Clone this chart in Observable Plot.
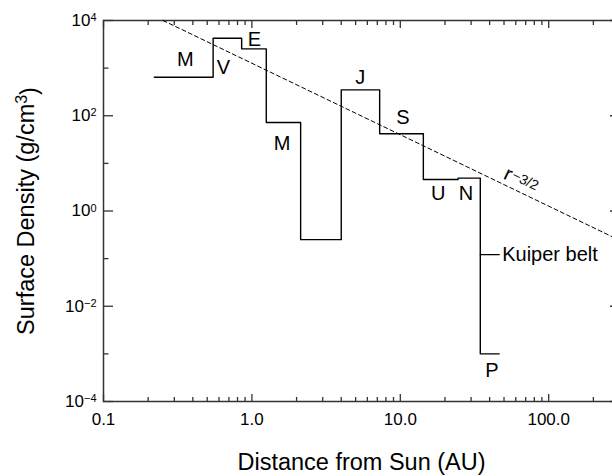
<!DOCTYPE html>
<html><head><meta charset="utf-8">
<script src="https://cdn.jsdelivr.net/npm/d3@7"></script>
<script src="https://cdn.jsdelivr.net/npm/@observablehq/plot@0.6"></script>
<style>body{margin:0;background:#fff} #chart svg{overflow:visible}</style>
</head><body><div id="chart"></div>
<script>
// Step profile of surface density (left edge of each zone, value in zone)
const stepR = [0.22, 0.548, 0.853, 1.25, 2.13, 4.0, 7.26, 14.3, 24.5, 34.6, 46.4];
const stepS = [645, 4250, 2540, 72, 0.25, 350, 42, 4.6, 4.9, 0.001, 0.001];
// Planet labels
const planetNames = ["M", "V", "E", "M", "J", "S", "U", "N", "P"];
const planetLabelR = [0.356, 0.643, 1.04, 1.60, 5.38, 10.4, 18.0, 27.7, 41.4];
const planetLabelS = [1514, 1030, 3990, 26, 635, 91.6, 2.32, 2.32, 4.44e-4];
// r^-3/2 reference line (end points)
const slopeR = [0.252, 300];
const slopeS = [10000, 0.2435];
const slopeLabel = "r";
const slopeExp = "−3/2";
const slopeLabelR = [51];
const slopeLabelS = [6.4];
// Kuiper belt marker
const kuiperR = [34.6, 46.4];
const kuiperS = [0.121, 0.121];
const kuiperLabel = "Kuiper belt";
const kuiperLabelR = [48.6];
// Ticks
const xTicks = [0.1, 1, 10, 100];
const xTickLabels = ["0.1", "1.0", "10.0", "100.0"];
const xMinor = [];
for (const d of xTicks) for (let k = 2; k <= 9; k++) if (d * k <= 300) xMinor.push(+(d * k).toPrecision(3));
const yTicks = [1e-4, 1e-2, 1, 1e2, 1e4];
const yTickExps = ["−4", "−2", "0", "2", "4"];
const yMinor = [1e-3, 1e-1, 10, 1e3];
const xTitle = "Distance from Sun (AU)";
const yTitle = "Surface Density (g/cm^3^)";

const stepData = stepR.map((r, i) => ({r, s: stepS[i]}));
const slopeData = slopeR.map((r, i) => ({r, s: slopeS[i]}));
const labelData = planetNames.map((t, i) => ({t, r: planetLabelR[i], s: planetLabelS[i]}));
const kuiperData = kuiperR.map((r, i) => ({r, s: kuiperS[i]}));
const xLabelMap = new Map(xTicks.map((d, i) => [d, xTickLabels[i]]));
const yLabelMap = new Map(yTicks.map((d, i) => [d, "10^" + yTickExps[i]]));

const ink = "#333";
const chart = Plot.plot({
  width: 612, height: 476,
  marginLeft: 103, marginTop: 20, marginBottom: 75, marginRight: -7,
  style: {fontFamily: "'Liberation Sans', Arial, sans-serif", fontSize: "17px", color: "#000", background: "#fff"},
  x: {type: "log", domain: [0.1, 300]},
  y: {type: "log", domain: [1e-4, 1e4]},
  marks: [
    Plot.frame({stroke: ink, strokeWidth: 1.5}),
    Plot.axisX(xTicks, {anchor: "bottom", tickSize: -7, stroke: ink, strokeWidth: 1.3, tickFormat: () => "", label: null}),
    Plot.axisX(xMinor, {anchor: "bottom", tickSize: -4, stroke: ink, strokeWidth: 1.3, tickFormat: () => "", label: null}),
    Plot.axisX(xTicks, {anchor: "top", tickSize: -7, stroke: ink, strokeWidth: 1.3, tickFormat: () => "", label: null}),
    Plot.axisX(xMinor, {anchor: "top", tickSize: -4, stroke: ink, strokeWidth: 1.3, tickFormat: () => "", label: null}),
    Plot.axisX(xTicks, {anchor: "bottom", tickSize: 0, tickPadding: 11, fontSize: 17, tickFormat: d => xLabelMap.get(d), label: null}),
    Plot.axisY(yTicks, {anchor: "left", tickSize: -10, stroke: ink, strokeWidth: 1.3, tickFormat: () => "", label: null}),
    Plot.axisY(yMinor, {anchor: "left", tickSize: -5.5, stroke: ink, strokeWidth: 1.3, tickFormat: () => "", label: null}),
    Plot.axisY(yTicks, {anchor: "right", tickSize: -10, stroke: ink, strokeWidth: 1.3, tickFormat: () => "", label: null}),
    Plot.axisY(yMinor, {anchor: "right", tickSize: -5.5, stroke: ink, strokeWidth: 1.3, tickFormat: () => "", label: null}),
    Plot.axisY(yTicks, {anchor: "left", tickSize: 0, tickPadding: 7, fontSize: 17, tickFormat: d => yLabelMap.get(d), label: null}),
    Plot.line(slopeData, {x: "r", y: "s", stroke: "#000", strokeWidth: 1, strokeDasharray: "4,3"}),
    Plot.line(stepData, {x: "r", y: "s", curve: "step-after", stroke: "#000", strokeWidth: 1.4}),
    Plot.line(kuiperData, {x: "r", y: "s", stroke: "#000", strokeWidth: 1.2}),
    Plot.text(labelData, {x: "r", y: "s", text: "t", fontSize: 20, fill: "#000"}),
    Plot.text([kuiperLabel], {x: kuiperLabelR[0], y: kuiperS[0], text: d => d, textAnchor: "start", fontSize: 20, fill: "#000"}),
    Plot.text([slopeLabel], {x: slopeLabelR[0], y: slopeLabelS[0], text: d => d, rotate: 26, textAnchor: "start", fontSize: 20, fill: "#000"}),
    Plot.text([xTitle], {frameAnchor: "bottom", dy: 68, lineAnchor: "bottom", textAnchor: "middle", text: d => d, fontSize: 23.5, fill: "#000"}),
    Plot.text([yTitle], {frameAnchor: "left", dx: -70, rotate: -90, lineAnchor: "bottom", textAnchor: "middle", text: d => d, fontSize: 23.5, fill: "#000"})
  ]
});
document.getElementById("chart").append(chart);

const svg = d3.select(chart);
svg.selectAll("text").each(function() {
  const txt = this.textContent;
  const t = d3.select(this);
  if (txt.startsWith("10^")) {
    const parts = txt.split("^");
    t.text(parts[0]);
    t.append("tspan").attr("dy", "-0.45em").attr("font-size", "11px").text(parts[1]);
  } else if (txt === yTitle) {
    const parts = txt.split("^");
    t.text(parts[0]);
    t.append("tspan").attr("dy", "-0.42em").attr("font-size", "16px").text(parts[1]);
    t.append("tspan").attr("dy", "0.42em").text(parts[2]);
  } else if (txt === slopeLabel) {
    t.append("tspan").attr("dy", "-0.25em").attr("dx", "1").attr("font-size", "14px").text(slopeExp);
  }
});
</script>
</body></html>
